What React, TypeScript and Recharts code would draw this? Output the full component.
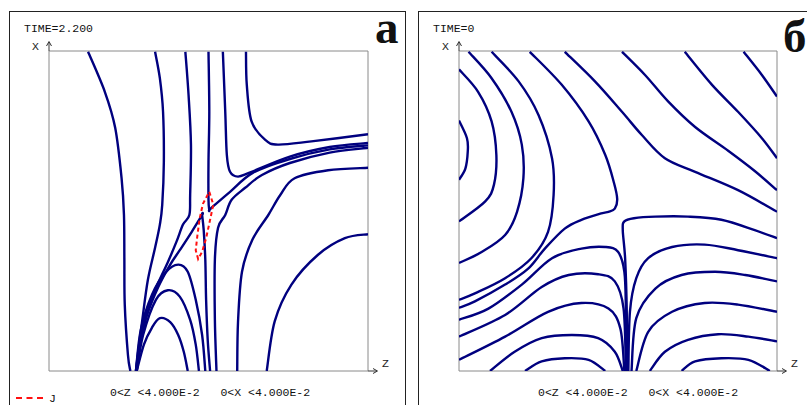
import { LineChart, Line, XAxis, YAxis, ReferenceArea, ReferenceDot } from 'recharts';

type P = [number, number];

// field lines, [Z, X] in units of 1e-3, domain 0..40
// panel а, TIME=2.200
const aL1: P[] = [[4.9, 39.9], [7.0, 34.9], [8.3, 30.4], [9.1, 24.1], [9.4, 19.5], [9.45, 14], [9.5, 8.3], [9.9, 2.0], [10.2, 0]];
const aL2: P[] = [[13.3, 39.9], [13.9, 36.6], [14.3, 32.4], [14.4, 26.1], [14.2, 20.8], [13.9, 18.3], [13.3, 15.4], [12.4, 11.4], [11.7, 6.4], [11.2, 2.6], [10.9, 0]];
const aL3: P[] = [[17.1, 39.9], [17.5, 34.5], [17.8, 28.3], [17.7, 22.0], [17.6, 19.5], [16.8, 18.3], [16.0, 16.2], [14.9, 13.6], [13.3, 10.1], [12.0, 6.4], [11.3, 2.6], [11.0, 0]];
const aArch0: P[] = [[10.9, 0], [11.4, 3.3], [12.3, 7.0], [13.7, 10.5], [15.2, 13.3], [16.4, 15.1], [17.9, 17.4], [19.2, 19.5], [19.2, 19.5], [19.4, 17.6], [19.6, 13.9], [19.7, 8.9], [19.9, 3.9], [20.2, 0]];
const aArch3: P[] = [[10.9, 0], [11.5, 5.1], [12.9, 9.5], [14.6, 12.3], [16.2, 13.3], [17.4, 12.4], [18.4, 8.9], [19.2, 4.5], [19.6, 0]];
const aArch2: P[] = [[11.0, 0], [11.8, 4.5], [13.4, 8.9], [14.9, 10.1], [16.4, 9.3], [17.7, 6.4], [18.4, 3.3], [18.8, 0]];
const aArch1: P[] = [[11.0, 0], [11.9, 3.3], [12.9, 5.4], [13.9, 6.6], [15.2, 6.1], [16.2, 4.5], [16.9, 2.4], [17.4, 0]];
const aL4: P[] = [[20.0, 39.9], [20.1, 32.4], [20.0, 26.2], [20.0, 21.4], [20.1, 20.1], [20.1, 20.1], [20.6, 20.6], [22.7, 22.4], [25.6, 24.8], [30.2, 26.5], [35.2, 27.7], [40, 28.2]];
const aL5: P[] = [[21.8, 39.9], [22.1, 32.4], [22.3, 27.0], [22.7, 24.9], [23.7, 24.3], [25.4, 24.9], [30.2, 26.8], [35.2, 28.0], [40, 28.5]];
const aL6: P[] = [[24.7, 39.9], [24.8, 35.8], [25.4, 31.2], [27.1, 28.9], [28.7, 28.3], [32.9, 28.7], [40, 29.6]];
const aL7: P[] = [[40, 27.9], [35.2, 27.3], [30.2, 26.0], [26.7, 24.5], [24.6, 22.9], [22.9, 21.4], [22.1, 19.5], [21.2, 17.9], [20.8, 13.9], [20.8, 6.4], [21.0, 0]];
const aL9: P[] = [[40, 25.4], [35.0, 25.1], [30.8, 24.1], [29.0, 22.0], [27.5, 19.5], [25.5, 16.4], [24.2, 12.4], [23.7, 6.1], [23.6, 0]];
const aL10: P[] = [[40, 17.1], [37.1, 16.6], [33.7, 14.5], [30.4, 10.8], [28.3, 6.2], [27.3, 0]];
// current contour J
const aJ: P[] = [[20.1, 22.4], [20.6, 20.8], [20.2, 18.9], [19.7, 16.6], [19.2, 14.9], [18.7, 14.0], [18.4, 15.1], [18.6, 16.9], [18.9, 19.1], [19.3, 20.9], [20.1, 22.4]];

// panel б, TIME=0
const bB1: P[] = [[0, 31.3], [1.0, 29.1], [1.1, 27.4], [0.8, 25.3], [0, 23.9]];
const bB2: P[] = [[0, 37.7], [2.4, 34.9], [4.1, 31.2], [4.7, 27.0], [4.4, 23.3], [3.3, 21.2], [0, 18.7]];
const bB3: P[] = [[1.2, 39.9], [4.1, 36.6], [6.6, 32.4], [7.9, 28.3], [8.1, 24.1], [7.3, 19.9], [5.8, 17.0], [2.9, 14.9], [0, 13.5]];
const bB4: P[] = [[4.1, 39.9], [7.5, 36.2], [10.0, 32.0], [11.7, 26.6], [11.9, 22.0], [11.2, 17.4], [9.1, 14.1], [5.8, 11.6], [2.0, 9.7], [0, 8.9]];
const bB5: P[] = [[8.9, 39.9], [12.9, 35.8], [16.3, 31.2], [18.4, 27.0], [19.5, 23.5], [19.9, 21.5], [19.6, 20.3], [18.8, 19.9], [17.9, 19.7], [15.4, 18.9], [13.3, 17.8], [10.8, 15.3], [8.7, 12.8], [5.8, 10.8], [2.0, 8.7], [0, 7.9]];
const bF: P[] = [[13.3, 39.9], [17.1, 36.2], [20.5, 32.4], [23.0, 29.5], [25.9, 26.6], [29.7, 24.9], [35.1, 22.6], [40, 19.9]];
const bG: P[] = [[20.5, 39.9], [23.4, 37.0], [26.3, 33.7], [29.7, 30.5], [33.9, 27.5], [37.2, 25.0], [40, 22.6]];
const bH: P[] = [[28.4, 39.9], [31.8, 35.8], [35.1, 32.4], [38.1, 29.1], [40, 26.6]];
const bI: P[] = [[35.8, 39.9], [38.1, 37.0], [40, 34.3]];
const bR1: P[] = [[21.1, 0], [21.1, 7.4], [20.9, 14.0], [20.6, 17.6], [20.8, 18.7], [22.0, 19.1], [24.7, 19.3], [28.8, 19.3], [33.0, 18.9], [37.2, 17.6], [40, 16.6]];
const bR2: P[] = [[21.3, 0], [21.5, 7.4], [22.3, 11.6], [23.8, 14.1], [26.8, 15.5], [30.9, 15.8], [35.1, 15.1], [40, 14.1]];
const bR3: P[] = [[21.7, 0], [22.3, 6.6], [24.7, 10.3], [28.0, 12.0], [32.2, 12.4], [36.0, 12.0], [40, 11.2]];
const bR4: P[] = [[22.3, 0], [23.8, 4.9], [26.8, 7.4], [30.9, 8.5], [35.1, 8.3], [40, 7.4]];
const bR5: P[] = [[24.0, 0], [25.9, 2.4], [28.8, 3.9], [32.6, 4.6], [36.4, 4.3], [40, 3.7]];
const bR6: P[] = [[28.0, 0], [29.7, 1.2], [33.0, 1.6], [36.4, 1.4], [39.1, 0]];
const bS1: P[] = [[0, 6.4], [3.7, 7.8], [7.9, 10.8], [11.7, 14.1], [15.4, 15.3], [18.4, 15.5], [20.0, 14.9], [20.8, 12.4], [21.0, 7.4], [21.1, 0]];
const bS2: P[] = [[0, 4.3], [5.8, 7.0], [10.4, 10.5], [13.8, 12.0], [17.5, 12.1], [19.6, 11.2], [20.7, 7.8], [21.0, 0]];
const bS3: P[] = [[0, 1.4], [5.8, 4.3], [11.2, 7.4], [15.4, 8.5], [18.8, 7.8], [20.3, 5.3], [20.8, 0]];
const bS4: P[] = [[3.9, 0], [7.0, 2.4], [10.4, 4.1], [14.2, 4.5], [17.5, 4.1], [19.6, 2.4], [20.6, 0]];
const bS5: P[] = [[8.3, 0], [10.4, 1.2], [13.3, 1.6], [16.3, 1.4], [18.4, 0]];

const linesA = [aL1, aL2, aL3, aArch0, aArch3, aArch2, aArch1, aL4, aL5, aL6, aL7, aL9, aL10];
const linesB = [bB1, bB2, bB3, bB4, bB5, bF, bG, bH, bI, bR1, bR2, bR3, bR4, bR5, bR6, bS1, bS2, bS3, bS4, bS5];

const NAVY = '#00007f';
const MONO = '"Liberation Mono", "DejaVu Sans Mono", monospace';

const toPts = (l: P[]) => l.map(([z, x]) => ({ z, x }));

// catmull-rom through every point
const smooth = (ctx: any) => {
  let pts: number[][] = [];
  return {
    areaStart() {},
    areaEnd() {},
    lineStart() { pts = []; },
    point(x: number, y: number) { pts.push([+x, +y]); },
    lineEnd() {
      if (!pts.length) return;
      ctx.moveTo(pts[0][0], pts[0][1]);
      for (let i = 0; i < pts.length - 1; i++) {
        const p0 = pts[i - 1] || pts[i], p1 = pts[i], p2 = pts[i + 1], p3 = pts[i + 2] || p2;
        ctx.bezierCurveTo(
          p1[0] + (p2[0] - p0[0]) / 6, p1[1] + (p2[1] - p0[1]) / 6,
          p2[0] - (p3[0] - p1[0]) / 6, p2[1] - (p3[1] - p1[1]) / 6,
          p2[0], p2[1]);
      }
    },
  };
};

const yArrow = (dx: number) => (p: any) => (
  <g>
    <line x1={p.cx} y1={p.cy} x2={p.cx} y2={p.cy - 9} stroke="#333" />
    <path d={`M${p.cx - 2.5},${p.cy - 5} L${p.cx},${p.cy - 9.5} L${p.cx + 2.5},${p.cy - 5}`} fill="none" stroke="#333" />
    <text x={p.cx + dx} y={p.cy - 1} fontFamily={MONO} fontSize={11.5} fill="#222">X</text>
  </g>
);
const zArrow = (dx: number) => (p: any) => (
  <g>
    <line x1={p.cx} y1={p.cy} x2={p.cx + 9} y2={p.cy} stroke="#333" />
    <path d={`M${p.cx + 5},${p.cy - 2.5} L${p.cx + 9.5},${p.cy} L${p.cx + 5},${p.cy + 2.5}`} fill="none" stroke="#333" />
    <text x={p.cx + dx} y={p.cy - 4} fontFamily={MONO} fontSize={11.5} fill="#222">Z</text>
  </g>
);

function Panel({ lines, width, right, left, j }: { lines: P[][]; width: number; right: number; left: number; j?: P[] }) {
  return (
    <div style={{ position: 'absolute', left, top: 0 }}>
      <LineChart width={width} height={405} margin={{ top: 51, right, bottom: 34, left: 49 }}>
        <XAxis type="number" dataKey="z" domain={[0, 40]} allowDataOverflow height={0} tick={false} tickLine={false} axisLine={{ stroke: '#333' }} />
        <YAxis type="number" domain={[0, 40]} allowDataOverflow width={0} tick={false} tickLine={false} axisLine={{ stroke: '#333' }} />
        <ReferenceArea x1={0} x2={40} y1={0} y2={40} fill="none" stroke="#8a8a8a" />
        {lines.map((l, i) => (
          <Line key={i} data={toPts(l)} dataKey="x" type={smooth as any} dot={false} stroke={NAVY}
            strokeWidth={2.4} strokeLinejoin="round" isAnimationActive={false} />
        ))}
        {j && (
          <Line data={toPts(j)} dataKey="x" type="linear" dot={false} stroke="#ff1010" strokeWidth={2}
            strokeDasharray="4 3" isAnimationActive={false} />
        )}
        <ReferenceDot x={0} y={40} r={0} ifOverflow="visible" shape={yArrow(-17)} />
        <ReferenceDot x={40} y={0} r={0} ifOverflow="visible" shape={zArrow(14)} />
      </LineChart>
    </div>
  );
}

export default function App() {
  const txt = { fontFamily: MONO, fontSize: 11.5, fill: '#111' };
  const big = { fontFamily: '"Liberation Serif", "DejaVu Serif", serif', fontSize: 47, fontWeight: 700, fill: '#111' };
  return (
    <div style={{ position: 'absolute', left: 0, top: 0, width: 807, height: 405, overflow: 'hidden', background: '#fff' }}>
      <Panel lines={linesA} j={aJ} left={0} width={400} right={32} />
      <Panel lines={linesB} left={410} width={397} right={30} />
      <svg width={807} height={405} style={{ position: 'absolute', left: 0, top: 0, pointerEvents: 'none' }}>
        <rect x={9.5} y={11.5} width={396} height={400} fill="none" stroke="#222" />
        <rect x={418.5} y={11.5} width={400} height={400} fill="none" stroke="#222" />
        <text x={24} y={32} {...txt}>TIME=2.200</text>
        <text x={433} y={32} {...txt}>TIME=0</text>
        <text x={375} y={43} {...big}>а</text>
        <text x={783} y={52} {...big}>б</text>
        <text x={110} y={396} {...txt} style={{ whiteSpace: 'pre' }}>{'0<Z <4.000E-2   0<X <4.000E-2'}</text>
        <text x={538} y={396} {...txt} style={{ whiteSpace: 'pre' }}>{'0<Z <4.000E-2   0<X <4.000E-2'}</text>
        <line x1={16} y1={398} x2={43} y2={398} stroke="#ff1010" strokeWidth={2} strokeDasharray="6 4.5" />
        <text x={49} y={402} {...txt}>J</text>
      </svg>
    </div>
  );
}
